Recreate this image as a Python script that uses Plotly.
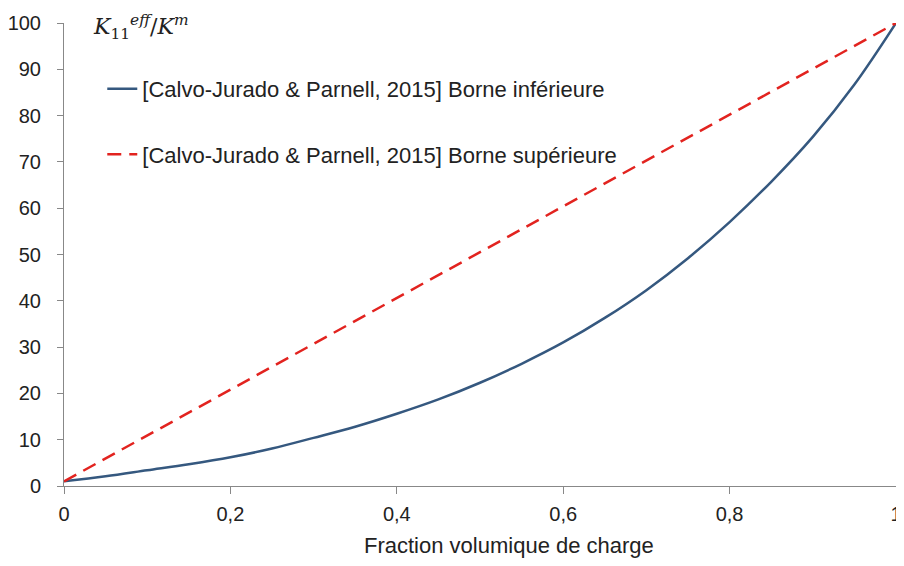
import plotly.graph_objects as go

# Data
frac = [0, 0.05, 0.1, 0.15, 0.2, 0.25, 0.3, 0.35, 0.4, 0.45, 0.5,
        0.55, 0.6, 0.65, 0.7, 0.75, 0.8, 0.85, 0.9, 0.95, 1.0]
lower = [1.0, 2.1, 3.4, 4.7, 6.2, 8.1, 10.4, 12.8, 15.6, 18.7, 22.3,
         26.4, 31.0, 36.3, 42.3, 49.2, 57.0, 65.7, 75.4, 86.7, 100.0]
upper_x = [0, 1]
upper = [1.0, 100.0]

x_tickvals = [0, 0.2, 0.4, 0.6, 0.8, 1]
x_ticktext = ["0", "0,2", "0,4", "0,6", "0,8", "1"]
y_tickvals = list(range(0, 101, 10))

name_lower = "[Calvo-Jurado & Parnell, 2015] Borne inférieure"
name_upper = "[Calvo-Jurado & Parnell, 2015] Borne supérieure"
x_title = "Fraction volumique de charge"

font_family = "Liberation Sans, Arial, sans-serif"

fig = go.Figure()
fig.add_trace(go.Scatter(
    x=frac, y=lower, mode="lines", name=name_lower,
    line=dict(color="#35587F", width=2.5, shape="spline"),
    cliponaxis=False, legendgroup="a"))
fig.add_trace(go.Scatter(
    x=upper_x, y=upper, mode="lines", name=name_upper,
    line=dict(color="#E2231F", width=2.5, dash="14px,8px"),
    cliponaxis=False, legendgroup="b"))

# page body has an 8px default margin: keep the figure inside the window
fig.update_layout(
    width=888, height=550,
    margin=dict(l=56, r=0, t=15, b=72),
    paper_bgcolor="white", plot_bgcolor="white",
    font=dict(family=font_family, size=20, color="#222"),
    showlegend=True,
    legend=dict(x=0.046, y=0.903, xanchor="left", yanchor="top",
                bgcolor="rgba(0,0,0,0)", font=dict(size=22, color="#222"),
                tracegroupgap=34, traceorder="grouped", itemwidth=30),
    xaxis=dict(range=[0, 1], tickvals=x_tickvals, ticktext=x_ticktext,
               showgrid=False, zeroline=False, showline=True,
               linecolor="#888", linewidth=1, ticks="outside",
               ticklen=7, tickcolor="#888", automargin=False,
               ticklabeloverflow="allow",
               tickfont=dict(size=20, color="#222"), ticklabelstandoff=3),
    yaxis=dict(range=[0, 100], tickvals=y_tickvals,
               showgrid=False, zeroline=False, showline=True,
               linecolor="#888", linewidth=1, ticks="outside",
               ticklen=6, tickcolor="#888", automargin=False,
               tickfont=dict(size=20, color="#222"), ticklabelstandoff=12),
)

fig.add_annotation(
    xref="paper", yref="paper", x=0.535, y=0, yshift=-59,
    xanchor="center", yanchor="middle", text=x_title, showarrow=False,
    font=dict(family=font_family, size=22, color="#222"))

fig.add_annotation(
    xref="paper", yref="paper", x=0.033, y=0.992, xanchor="left", yanchor="middle",
    text="<i>K</i><sub>11</sub><sup><i>eff</i></sup>/<i>K</i><sup><i>m</i></sup>",
    showarrow=False,
    font=dict(family="DejaVu Serif, Liberation Serif, serif", size=22, color="#222"))

fig.write_html("out.html")
